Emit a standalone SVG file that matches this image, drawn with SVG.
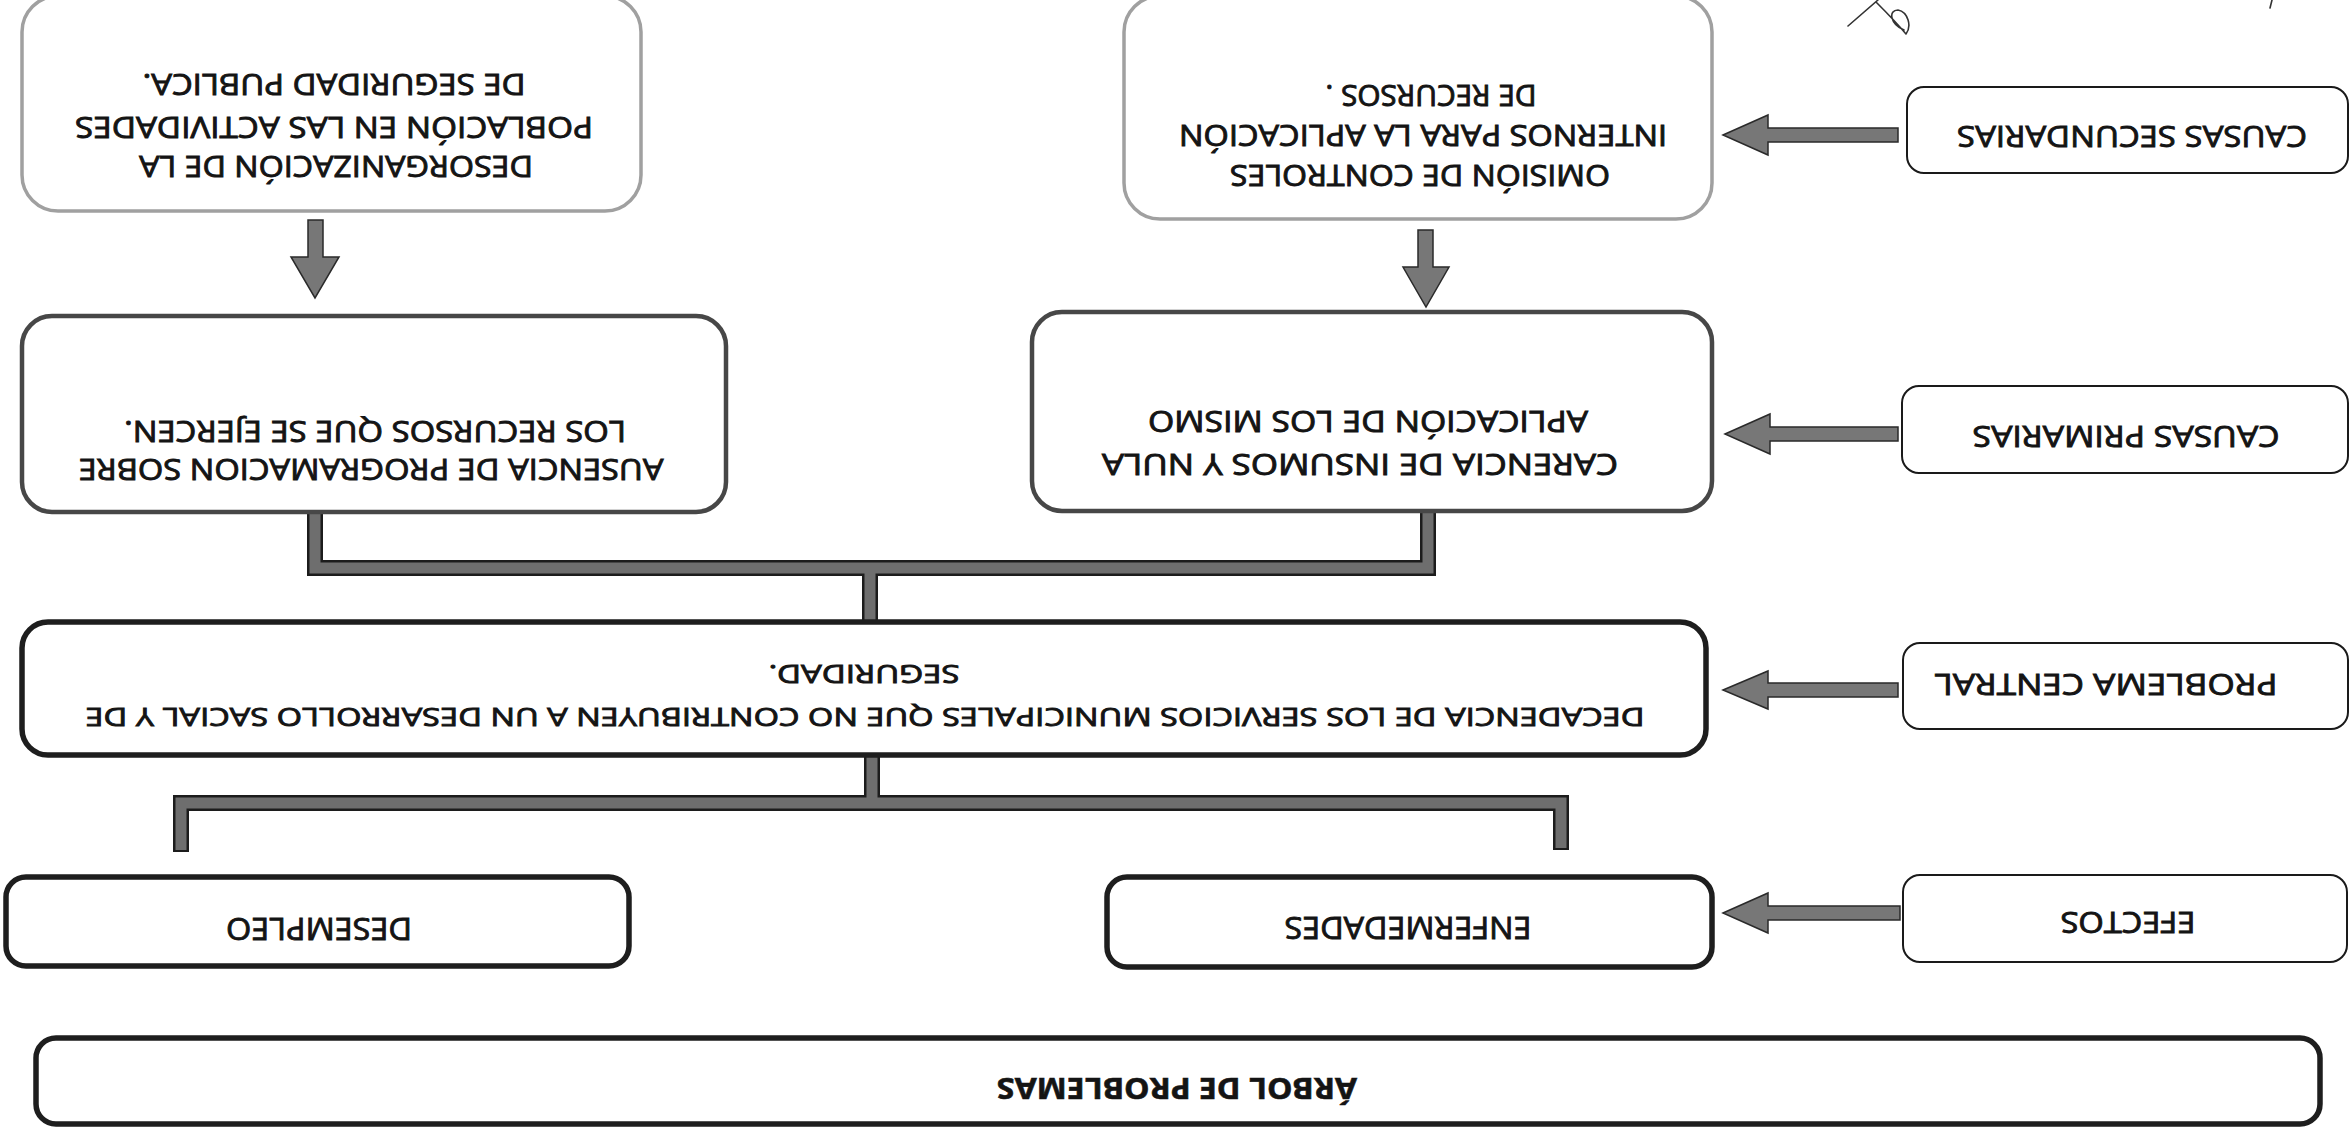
<svg xmlns="http://www.w3.org/2000/svg" width="2352" height="1129" viewBox="0 0 2352 1129">
<style>
  .t { font-family: "Open Sans", "Liberation Sans", sans-serif; font-weight: normal; fill: #141414; stroke: #141414; stroke-width: 0.9; text-anchor: middle; }
  .b { font-weight: bold; stroke-width: 0.6; }
  .light { fill: #fff; stroke: #a0a0a0; stroke-width: 3.5; }
  .mid { fill: #fff; stroke: #474747; stroke-width: 4.5; }
  .dark { fill: #fff; stroke: #1e1e1e; stroke-width: 5.5; }
  .label { fill: #fff; stroke: #1a1a1a; stroke-width: 2; }
  .arrow { fill: #777; stroke: #2a2a2a; stroke-width: 1.5; stroke-linejoin: miter; }
  .barOut { fill: none; stroke: #1c1c1c; stroke-width: 16; stroke-linejoin: miter; stroke-linecap: butt; }
  .barIn { fill: none; stroke: #6e6e6e; stroke-width: 11; stroke-linejoin: miter; stroke-linecap: butt; }
</style>
<rect x="0" y="0" width="2352" height="1129" fill="#fff"/>

<g id="connectors">
  <path class="barOut" d="M315,512 V568 H1428 V511 M870,568 V623 M872,755 V803 M181,852 V803 H1561 V850"/>
  <path class="barIn" d="M315,514 V568 H1428 V513 M870,568 V620 M872,757 V803 M181,850 V803 H1561 V848"/>
  <polygon class="arrow" points="308,220 323,220 323,257 339,257 315,298 291,257 308,257"/>
  <polygon class="arrow" points="1418,230 1433,230 1433,267 1449,267 1426,307 1403,267 1418,267"/>
  <polygon class="arrow" points="1723,135 1768,115 1768,128 1898,128 1898,142 1768,142 1768,155"/>
  <polygon class="arrow" points="1725,434 1770,414 1770,427 1898,427 1898,441 1770,441 1770,454"/>
  <polygon class="arrow" points="1723,690 1768,671 1768,683 1898,683 1898,697 1768,697 1768,709"/>
  <polygon class="arrow" points="1723,913 1768,893 1768,906 1900,906 1900,920 1768,920 1768,933"/>
</g>

<g id="n-desorganizacion">
  <rect class="light" x="22" y="-4" width="619" height="215" rx="36"/>
  <text class="t" x="336" y="176.5" font-size="29" textLength="394" lengthAdjust="spacingAndGlyphs" transform="rotate(180 336 166)">DESORGANIZACIÓN DE LA</text>
  <text class="t" x="334" y="137.5" font-size="29" textLength="518" lengthAdjust="spacingAndGlyphs" transform="rotate(180 334 127)">POBLACIÓN EN LAS ACTIVIDADES</text>
  <text class="t" x="334" y="94.5" font-size="29" textLength="383" lengthAdjust="spacingAndGlyphs" transform="rotate(180 334 84)">DE SEGURIDAD PUBLICA.</text>
</g>

<g id="n-omision">
  <rect class="light" x="1124" y="-4" width="588" height="223" rx="36"/>
  <text class="t" x="1420" y="185" font-size="29" textLength="380" lengthAdjust="spacingAndGlyphs" transform="rotate(180 1420 175)">OMISIÓN DE CONTROLES</text>
  <text class="t" x="1423" y="145" font-size="29" textLength="488" lengthAdjust="spacingAndGlyphs" transform="rotate(180 1423 135)">INTERNOS PARA LA APLICACIÓN</text>
  <text class="t" x="1431" y="105" font-size="29" textLength="211" lengthAdjust="spacingAndGlyphs" transform="rotate(180 1431 95)">DE RECURSOS .</text>
</g>

<g id="n-ausencia">
  <rect class="mid" x="22" y="316" width="704" height="196" rx="30"/>
  <text class="t" x="371" y="479.5" font-size="29" textLength="585" lengthAdjust="spacingAndGlyphs" transform="rotate(180 371 469)">AUSENCIA DE PROGRAMACION SOBRE</text>
  <text class="t" x="375" y="441" font-size="29" textLength="502" lengthAdjust="spacingAndGlyphs" transform="rotate(180 375 431)">LOS RECURSOS QUE SE EJERCEN.</text>
</g>

<g id="n-carencia">
  <rect class="mid" x="1032" y="312" width="680" height="199" rx="30"/>
  <text class="t" x="1360" y="474.5" font-size="29" textLength="516" lengthAdjust="spacingAndGlyphs" transform="rotate(180 1360 464)">CARENCIA DE INSUMOS Y NULA</text>
  <text class="t" x="1368" y="431.5" font-size="29" textLength="440" lengthAdjust="spacingAndGlyphs" transform="rotate(180 1368 421)">APLICACIÓN DE LOS MISMO</text>
</g>

<g id="n-decadencia">
  <rect class="dark" x="22" y="622" width="1684" height="133" rx="26"/>
  <text class="t" x="865" y="726" font-size="26" textLength="1559" lengthAdjust="spacingAndGlyphs" transform="rotate(180 865 717)">DECADENCIA DE LOS SERVICIOS MUNICIPALES QUE NO CONTRIBUYEN A UN DESARROLLO SACIAL Y DE</text>
  <text class="t" x="864" y="683" font-size="26" textLength="191" lengthAdjust="spacingAndGlyphs" transform="rotate(180 864 674)">SEGURIDAD.</text>
</g>

<g id="n-desempleo">
  <rect class="dark" x="6" y="877" width="623" height="89" rx="20"/>
  <text class="t" x="319" y="940" font-size="31" textLength="186" lengthAdjust="spacingAndGlyphs" transform="rotate(180 319 929)">DESEMPLEO</text>
</g>

<g id="n-enfermedades">
  <rect class="dark" x="1107" y="877" width="605" height="90" rx="20"/>
  <text class="t" x="1408" y="939" font-size="31" textLength="247" lengthAdjust="spacingAndGlyphs" transform="rotate(180 1408 928)">ENFERMEDADES</text>
</g>

<g id="n-arbol">
  <rect class="dark" x="36" y="1038" width="2284" height="86" rx="20"/>
  <text class="t b" x="1177" y="1098.5" font-size="29" textLength="360" lengthAdjust="spacingAndGlyphs" transform="rotate(180 1177 1088)">ÁRBOL DE PROBLEMAS</text>
</g>

<g id="n-causas-secundarias">
  <rect class="label" x="1907" y="87" width="441" height="86" rx="17"/>
  <text class="t" x="2132" y="148" font-size="30" textLength="350" lengthAdjust="spacingAndGlyphs" transform="rotate(180 2132 137)">CAUSAS SECUNDARIAS</text>
</g>

<g id="n-causas-primarias">
  <rect class="label" x="1902" y="386" width="446" height="87" rx="17"/>
  <text class="t" x="2126" y="448" font-size="30" textLength="307" lengthAdjust="spacingAndGlyphs" transform="rotate(180 2126 437)">CAUSAS PRIMARIAS</text>
</g>

<g id="n-problema-central">
  <rect class="label" x="1903" y="643" width="445" height="86" rx="17"/>
  <text class="t" x="2106" y="696" font-size="30" textLength="343" lengthAdjust="spacingAndGlyphs" transform="rotate(180 2106 685)">PROBLEMA CENTRAL</text>
</g>

<g id="n-efectos">
  <rect class="label" x="1903" y="875" width="444" height="87" rx="17"/>
  <text class="t" x="2128" y="934" font-size="30" textLength="135" lengthAdjust="spacingAndGlyphs" transform="rotate(180 2128 923)">EFECTOS</text>
</g>

<g id="mark" fill="none" stroke="#333" stroke-width="1.6" stroke-linecap="round">
  <path d="M1848,26 L1878,0 M1876,2 C1886,12 1896,22 1906,34 M1906,34 C1912,26 1908,12 1898,10 C1888,10 1890,24 1904,30"/>
  <path d="M2272,0 L2270,8"/>
</g>
</svg>
